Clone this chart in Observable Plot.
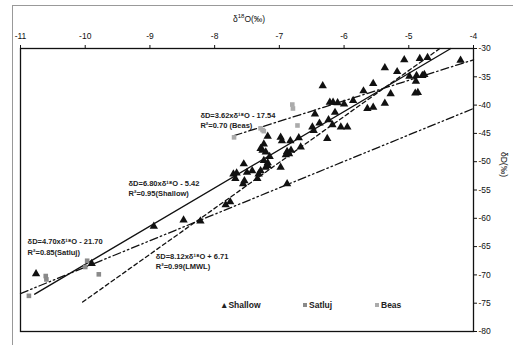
<!DOCTYPE html>
<html><head><meta charset="utf-8">
<script src="https://cdn.jsdelivr.net/npm/d3@7"></script>
<script src="https://cdn.jsdelivr.net/npm/@observablehq/plot@0.6"></script>
<style>
body{margin:0;background:#fff;font-family:"Liberation Sans",Arial,sans-serif;}
#wrap{position:relative;width:513px;height:345px;overflow:hidden;}
#wrap svg{position:absolute;left:0;top:0;}
.ov{position:absolute;white-space:nowrap;color:#111;}
.leg{position:absolute;top:300px;font-size:8.5px;font-weight:bold;color:#222;}
.sq{display:inline-block;width:4px;height:4px;margin-right:2px;vertical-align:1px;}
</style></head>
<body><div id="wrap"></div>
<script>
// δ18O (x) and δD (y) values
const shallowX = [-4.20,-4.71,-4.83,-5.07,-5.37,-5.18,-4.99,-4.88,-4.79,-4.76,-4.89,-4.90,-4.86,-5.28,-5.55,-5.70,-5.37,-5.55,-5.64,-5.86,-6.00,-6.10,-6.17,-6.22,-6.33,-6.14,-6.45,-6.38,-6.24,-6.18,-6.05,-5.95,-6.49,-6.47,-6.26,-6.70,-6.83,-6.98,-6.96,-7.18,-7.24,-7.29,-7.26,-7.21,-7.24,-7.18,-7.15,-6.98,-6.88,-6.85,-6.82,-6.90,-6.67,-7.55,-7.71,-7.66,-7.68,-7.56,-7.54,-7.50,-7.42,-7.32,-7.29,-7.21,-7.18,-7.34,-6.88,-7.83,-7.76,-8.22,-8.48,-8.94,-10.76,-9.90];
const shallowY = [-32.1,-31.6,-31.8,-32.0,-33.4,-34.1,-34.9,-34.8,-34.8,-34.6,-35.8,-37.9,-37.8,-38.0,-36.2,-37.5,-39.7,-40.4,-40.6,-39.2,-39.8,-39.6,-39.5,-39.5,-36.6,-41.3,-41.6,-43.2,-42.6,-43.5,-43.9,-43.9,-43.9,-44.5,-45.9,-45.8,-46.3,-45.7,-46.3,-45.5,-46.9,-47.7,-48.0,-48.3,-49.8,-50.2,-49.1,-51.0,-48.2,-48.6,-48.0,-48.8,-47.4,-50.4,-52.2,-52.0,-53.0,-53.9,-53.4,-51.9,-51.6,-52.2,-51.6,-51.0,-50.7,-53.0,-53.9,-57.6,-57.1,-60.5,-60.3,-61.4,-69.8,-68.0];
const satlujX = [-10.87,-10.61,-10.60,-9.97,-10.00,-9.79];
const satlujY = [-73.7,-70.2,-70.8,-67.5,-68.6,-69.9];
const beasX = [-7.70,-7.29,-7.26,-7.24,-6.80,-6.79,-6.72];
const beasY = [-45.7,-44.1,-44.4,-44.6,-39.9,-40.6,-43.6];
// regression line end points [x, y]
const shallowFit = [[-10.78,-73.4],[-4.35,-30.0]];
const lmwlFit = [[-10.04,-74.8],[-4.52,-30.0]];
const satlujFit = [[-11.0,-73.3],[-4.0,-40.6]];
const beasFit = [[-7.70,-45.4],[-4.0,-32.0]];
const xTicks = [-11,-10,-9,-8,-7,-6,-5,-4];
const yTicks = [-80,-75,-70,-65,-60,-55,-50,-45,-40,-35,-30];
const notes = [
  {t:"\u03B4D=3.62x\u03B4\u00B9\u2078O - 17.54", x:-8.22, y:-41.8},
  {t:"R\u00B2=0.70 (Beas)", x:-8.22, y:-43.7},
  {t:"\u03B4D=6.80x\u03B4\u00B9\u2078O - 5.42", x:-9.33, y:-53.8},
  {t:"R\u00B2=0.95(Shallow)", x:-9.33, y:-55.6},
  {t:"\u03B4D=4.70x\u03B4\u00B9\u2078O - 21.70", x:-10.89, y:-64.2},
  {t:"R\u00B2=0.85(Satluj)", x:-10.89, y:-66.0},
  {t:"\u03B4D=8.12x\u03B4\u00B9\u2078O + 6.71", x:-8.91, y:-66.7},
  {t:"R\u00B2=0.99(LMWL)", x:-8.91, y:-68.5}
];

const pts = (xs, ys) => xs.map((x, i) => ({x, y: ys[i]}));
const seg = a => a.map(([x, y]) => ({x, y}));

const chart = Plot.plot({
  width: 513, height: 345,
  marginTop: 48, marginRight: 40, marginLeft: 20, marginBottom: 14,
  style: {fontFamily: '"Liberation Sans", Arial, sans-serif', background: "transparent"},
  x: {domain: [-11, -4]},
  y: {domain: [-80, -30]},
  marks: [
    Plot.frame({stroke: "#111", strokeWidth: 1.3}),
    Plot.axisX({anchor: "top", ticks: xTicks, tickFormat: d => `${d}`, tickSize: 4, tickPadding: 6, label: null, fontSize: 8.5, stroke: "#111", color: "#111"}),
    Plot.axisY({anchor: "right", ticks: yTicks, tickFormat: d => `${d}`, tickSize: 3, tickPadding: 2, label: null, fontSize: 8.5, stroke: "#111", color: "#111"}),
    Plot.line(seg(satlujFit), {x: "x", y: "y", stroke: "#111", strokeWidth: 1.3, strokeDasharray: "8,3,1.5,3,1.5,3"}),
    Plot.line(seg(beasFit), {x: "x", y: "y", stroke: "#111", strokeWidth: 1.3, strokeDasharray: "8,3,1.5,3"}),
    Plot.line(seg(lmwlFit), {x: "x", y: "y", stroke: "#111", strokeWidth: 1.3, strokeDasharray: "4,3"}),
    Plot.line(seg(shallowFit), {x: "x", y: "y", stroke: "#111", strokeWidth: 1.4}),
    Plot.dot(pts(beasX, beasY), {x: "x", y: "y", symbol: "square", r: 2.6, fill: "#ababab"}),
    Plot.dot(pts(satlujX, satlujY), {x: "x", y: "y", symbol: "square", r: 2.6, fill: "#8a8a8a"}),
    Plot.dot(pts(shallowX, shallowY), {x: "x", y: "y", symbol: "triangle", r: 3.1, fill: "#111"}),
    Plot.text(notes, {x: "x", y: "y", text: "t", textAnchor: "start", fontSize: 7.5, fontWeight: "bold", fill: "#222"})
  ]
});
const wrap = document.getElementById("wrap");
wrap.appendChild(chart);
wrap.insertAdjacentHTML("beforeend", `
<div class="ov" style="left:12px;top:5px;width:501px;height:340px;border-left:1px solid #999;border-top:1px solid #999;"></div>
<div class="ov" style="left:233px;top:13px;font-size:8.5px;">\u03B4<sup style="font-size:6px">18</sup>O(\u2030)</div>
<div class="ov" style="left:509px;top:152px;font-size:8.5px;transform:rotate(90deg);transform-origin:left top;">\u03B4D(\u2030)</div>
<div class="leg" style="left:220px;">\u25B2Shallow</div>
<div class="leg" style="left:303px;"><span class="sq" style="background:#8a8a8a"></span>Satluj</div>
<div class="leg" style="left:375px;"><span class="sq" style="background:#ababab"></span>Beas</div>
`);
</script></body></html>
